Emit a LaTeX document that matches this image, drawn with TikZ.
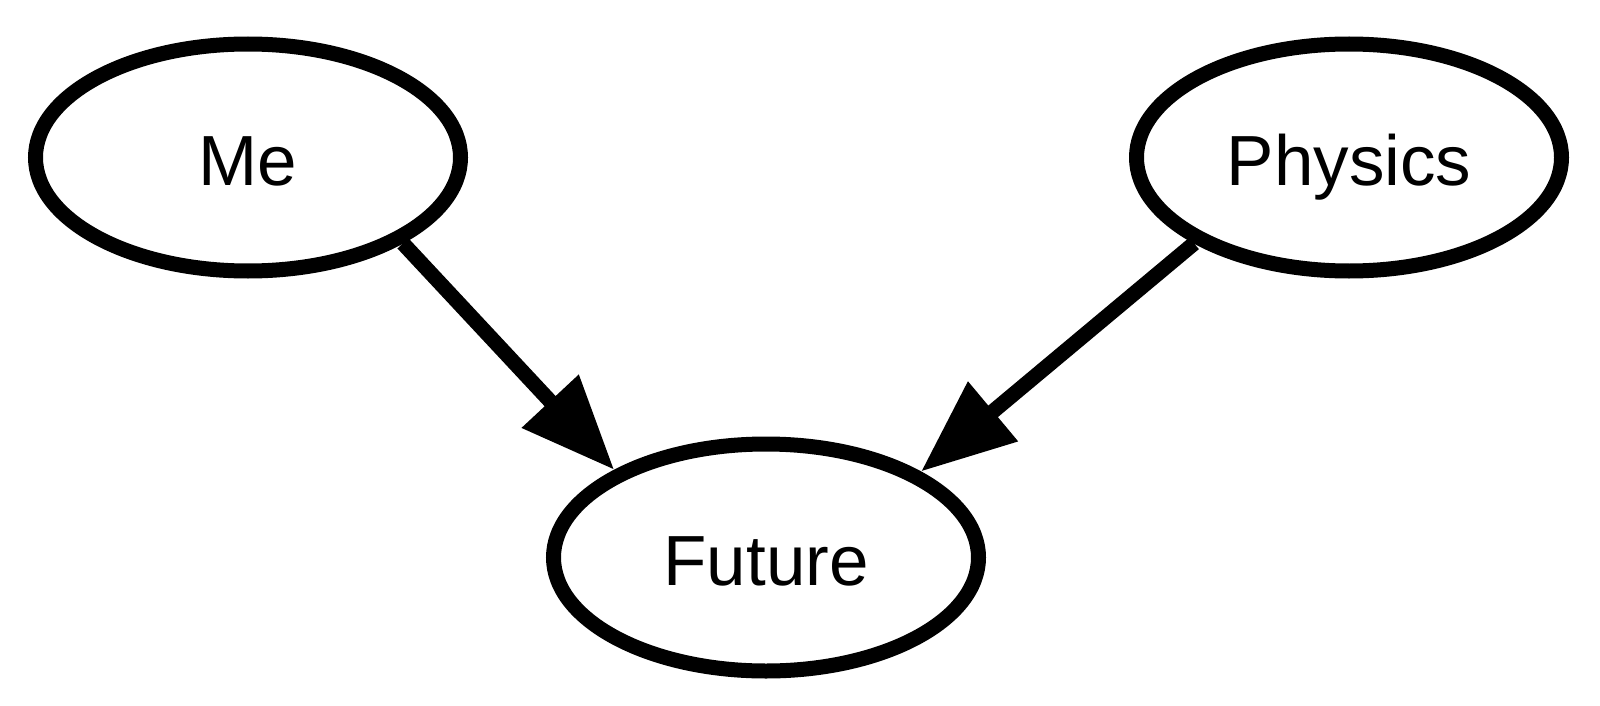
\documentclass[tikz,border=0pt]{standalone}
\usepackage{fontspec}
\setmainfont{Liberation Sans}
\usetikzlibrary{shapes.geometric,arrows.meta}

\begin{document}
\begin{tikzpicture}[x=1pt, y=-1pt, line width=15pt,
        main/.style = {draw, ellipse, inner sep=0pt, minimum width=425pt, minimum height=227pt,
            text height=55pt, text depth=0pt, font=\fontsize{71}{82}\selectfont},
        >={Triangle[length=94pt, width=74pt]}]
        \useasboundingbox (0,0) rectangle (1600,706);
        \node[main] (me) at (248,157.5) {Me};
        \node[main] (physics) at (1349,157.5) {Physics};
        \node[main] (future) at (766,557.5) {Future};
        \draw[->] (me.-29.5) -- (future.150.5);
        \draw[->] (physics.-151.3) -- (future.29.6);
    \end{tikzpicture}
\end{document}
